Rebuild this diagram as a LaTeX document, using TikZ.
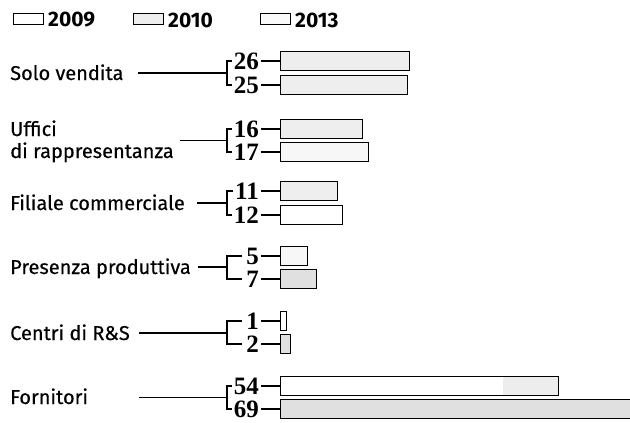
\documentclass[tikz,border=0pt]{standalone}
\usepackage{fontspec}
\newfontfamily\labelfont[FakeBold=0.4]{Fira Sans}
\newfontfamily\legfont{Fira Sans}
\newfontfamily\numfont{Liberation Serif}
\begin{document}
\begin{tikzpicture}[x=1pt,y=-1pt,
  lab/.style={font=\labelfont\fontsize{20}{22}\selectfont, anchor=base west, inner sep=0},
  num/.style={font=\numfont\bfseries\fontsize{25}{27}\selectfont, anchor=east, inner sep=0},
  bar/.style={draw, line width=0.9pt, minimum height=19pt, inner sep=0, anchor=west},
  leg/.style={draw, line width=0.9pt, minimum width=30pt, minimum height=11pt, inner sep=0, anchor=west},
  yr/.style={font=\legfont\bfseries\fontsize{21}{23}\selectfont, anchor=west, inner sep=0},
  con/.style={line width=1.1pt},
  dotL/.style={fill=gray!6},
  dotM/.style={fill=gray!13},
  dotH/.style={fill=gray!24},
]
\useasboundingbox (0,0) rectangle (630,423);

% legend
\node[leg] (l09) at (13,19) {};
\node[yr] (t09) at (48,20) {2009};
\node[leg, dotM] (l10) at (133,19) {};
\node[yr] (t10) at (168,20) {2010};
\node[leg, fill=gray!4] (l13) at (260,19) {};
\node[yr] (t13) at (295,20) {2013};

% ---------- Solo vendita
\node[lab] (gS) at (10,80) {Solo vendita};
\coordinate (sS) at (138,73);
\coordinate (kS) at (227,73);
\node[num] (n26) at (259,61) {26};
\node[num] (n25) at (259,85) {25};
\node[bar, dotM, minimum width=129pt] (b26) at (280,61) {};
\node[bar, dotM, minimum width=127pt] (b25) at (280,85) {};
\draw[con] (sS) -- (kS);
\draw[con] ([xshift=-2pt]n26.west) -| (kS) |- ([xshift=-2pt]n25.west);
\draw[con] ([xshift=2pt]n26.east) -- (b26.west);
\draw[con] ([xshift=2pt]n25.east) -- (b25.west);

% ---------- Uffici di rappresentanza
\node[lab] (gU1) at (10,136) {Uffici};
\node[lab] (gU2) at (10,158) {di rappresentanza};
\coordinate (sU) at (180,140.5);
\coordinate (kU) at (227,140.5);
\node[num] (n16) at (259,129) {16};
\node[num] (n17) at (259,152) {17};
\node[bar, dotM, minimum width=82pt] (b16) at (280,129) {};
\node[bar, dotL, minimum width=88pt] (b17) at (280,152) {};
\draw[con] (sU) -- (kU);
\draw[con] ([xshift=-2pt]n16.west) -| (kU) |- ([xshift=-2pt]n17.west);
\draw[con] ([xshift=2pt]n16.east) -- (b16.west);
\draw[con] ([xshift=2pt]n17.east) -- (b17.west);

% ---------- Filiale commerciale
\node[lab] (gF) at (10,210) {Filiale commerciale};
\coordinate (sF) at (197,203);
\coordinate (kF) at (227,203);
\node[num] (n11) at (259,191) {11};
\node[num] (n12) at (259,215) {12};
\node[bar, dotM, minimum width=57pt] (b11) at (280,191) {};
\node[bar, minimum width=62pt] (b12) at (280,215) {};
\draw[con] (sF) -- (kF);
\draw[con] ([xshift=-2pt]n11.west) -| (kF) |- ([xshift=-2pt]n12.west);
\draw[con] ([xshift=2pt]n11.east) -- (b11.west);
\draw[con] ([xshift=2pt]n12.east) -- (b12.west);

% ---------- Presenza produttiva
\node[lab] (gP) at (10,274) {Presenza produttiva};
\coordinate (sP) at (198,267);
\coordinate (kP) at (227,267);
\node[num] (n5) at (259,256) {5};
\node[num] (n7) at (259,279) {7};
\node[bar, dotL, minimum width=27pt] (b5) at (280,256) {};
\node[bar, dotH, minimum width=36pt] (b7) at (280,279) {};
\draw[con] (sP) -- (kP);
\draw[con] ([xshift=-4pt]n5.west) -| (kP) |- ([xshift=-4pt]n7.west);
\draw[con] ([xshift=2pt]n5.east) -- (b5.west);
\draw[con] ([xshift=2pt]n7.east) -- (b7.west);

% ---------- Centri di R&S
\node[lab] (gC) at (10,340) {Centri di R\&S};
\coordinate (sC) at (139,333);
\coordinate (kC) at (227,333);
\node[num] (n1) at (259,321) {1};
\node[num] (n2) at (259,344) {2};
\node[bar, minimum width=6pt] (b1) at (280,321) {};
\node[bar, dotH, minimum width=10pt] (b2) at (280,344) {};
\draw[con] (sC) -- (kC);
\draw[con] ([xshift=-4pt]n1.west) -| (kC) |- ([xshift=-4pt]n2.west);
\draw[con] ([xshift=2pt]n1.east) -- (b1.west);
\draw[con] ([xshift=2pt]n2.east) -- (b2.west);

% ---------- Fornitori
\node[lab] (gR) at (10,404) {Fornitori};
\coordinate (sR) at (139,397.5);
\coordinate (kR) at (227,397.5);
\node[num] (n54) at (259,386) {54};
\node[num] (n69) at (259,409) {69};
\node[bar, minimum width=278pt,
  path picture={\fill[gray!14] ([xshift=-55pt]path picture bounding box.north east) rectangle (path picture bounding box.south east);}] (b54) at (280,386) {};
\node[bar, dotH, minimum width=360pt] (b69) at (280,409) {};
\draw[con] (sR) -- (kR);
\draw[con] ([xshift=-2pt]n54.west) -| (kR) |- ([xshift=-2pt]n69.west);
\draw[con] ([xshift=2pt]n54.east) -- (b54.west);
\draw[con] ([xshift=2pt]n69.east) -- (b69.west);
\end{tikzpicture}
\end{document}
